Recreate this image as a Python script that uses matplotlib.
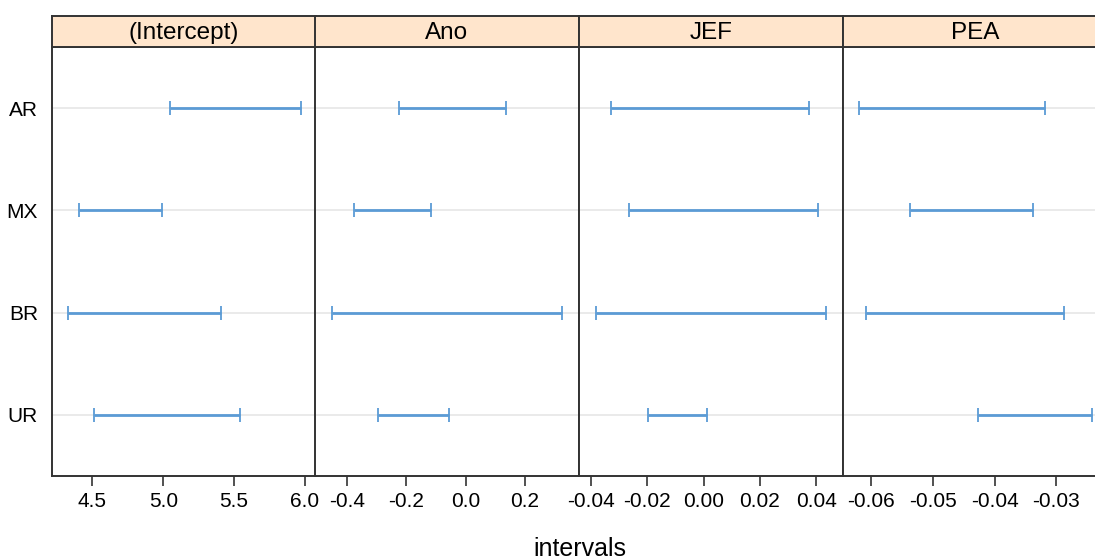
import matplotlib
matplotlib.use("Agg")
import matplotlib.pyplot as plt

plt.rcParams['font.family'] = ['Liberation Sans', 'DejaVu Sans']

groups = ["UR", "BR", "MX", "AR"]  # bottom to top
panels = ["(Intercept)", "Ano", "JEF", "PEA"]

lower = {
    "(Intercept)": [4.51, 4.328, 4.406, 5.047],
    "Ano": [-0.294, -0.451, -0.375, -0.225],
    "JEF": [-0.0198, -0.0380, -0.0265, -0.0328],
    "PEA": [-0.0427, -0.0609, -0.0537, -0.0620],
}
upper = {
    "(Intercept)": [5.54, 5.41, 4.99, 5.97],
    "Ano": [-0.055, 0.327, -0.115, 0.138],
    "JEF": [0.0012, 0.0435, 0.0407, 0.0374],
    "PEA": [-0.0243, -0.0287, -0.0338, -0.0318],
}
xticks = {
    "(Intercept)": [4.5, 5.0, 5.5, 6.0],
    "Ano": [-0.4, -0.2, 0.0, 0.2],
    "JEF": [-0.04, -0.02, 0.00, 0.02, 0.04],
    "PEA": [-0.06, -0.05, -0.04, -0.03],
}
ticklabels = {
    "(Intercept)": ["4.5", "5.0", "5.5", "6.0"],
    "Ano": ["-0.4", "-0.2", "0.0", "0.2"],
    "JEF": ["-0.04", "-0.02", "0.00", "0.02", "0.04"],
    "PEA": ["-0.06", "-0.05", "-0.04", "-0.03"],
}
xlims = {
    "(Intercept)": (4.215, 6.078),
    "Ano": (-0.508, 0.383),
    "JEF": (-0.0441, 0.0494),
    "PEA": (-0.0646, -0.0218),
}

W, H = 1095, 559
fig = plt.figure(figsize=(W / 100, H / 100), dpi=100)

lefts = [52, 315, 579, 843]
pw = 264
bottom_px, top_px, strip_top_px = 476, 47, 16
bar_color = "#5b9bd5"
border = "#333333"

for i, name in enumerate(panels):
    x0 = lefts[i] / W
    ax = fig.add_axes([x0, 1 - bottom_px / H, pw / W, (bottom_px - top_px) / H])
    ypos = list(range(1, len(groups) + 1))
    for y in ypos:
        ax.axhline(y, color="#e6e6e6", lw=1.2, zorder=0)
    lo = lower[name]
    hi = upper[name]
    mid = [(a + b) / 2 for a, b in zip(lo, hi)]
    err = [[m - a for m, a in zip(mid, lo)], [b - m for m, b in zip(mid, hi)]]
    ax.errorbar(mid, ypos, xerr=err, fmt="none", ecolor=bar_color,
                elinewidth=2.0, capsize=5, capthick=1.3, zorder=3)
    ax.set_xlim(*xlims[name])
    ax.set_ylim(0.4, 4.6)
    ax.set_xticks(xticks[name])
    ax.set_xticklabels(ticklabels[name])
    ax.tick_params(axis="x", direction="out", length=7.5, width=1.2, colors=border,
                   labelcolor="black", labelsize=15, pad=4)
    if i == 0:
        ax.set_yticks(ypos)
        ax.set_yticklabels(groups)
        ax.tick_params(axis="y", length=0, labelsize=15, pad=10)
    else:
        ax.set_yticks([])
    for s in ax.spines.values():
        s.set_color(border)
        s.set_linewidth(1.4)

    sax = fig.add_axes([x0, 1 - top_px / H, pw / W, (top_px - strip_top_px) / H])
    sax.set_facecolor("#ffe5cc")
    sax.set_xticks([])
    sax.set_yticks([])
    for s in sax.spines.values():
        s.set_color(border)
        s.set_linewidth(1.4)
    sax.text(0.5, 0.45, name, ha="center", va="center", fontsize=17.5,
             transform=sax.transAxes)

fig.text((lefts[0] + lefts[-1] + pw) / 2 / W, 1 - 556 / H, "intervals",
         ha="center", va="baseline", fontsize=18)

fig.savefig("out.png", dpi=100)
